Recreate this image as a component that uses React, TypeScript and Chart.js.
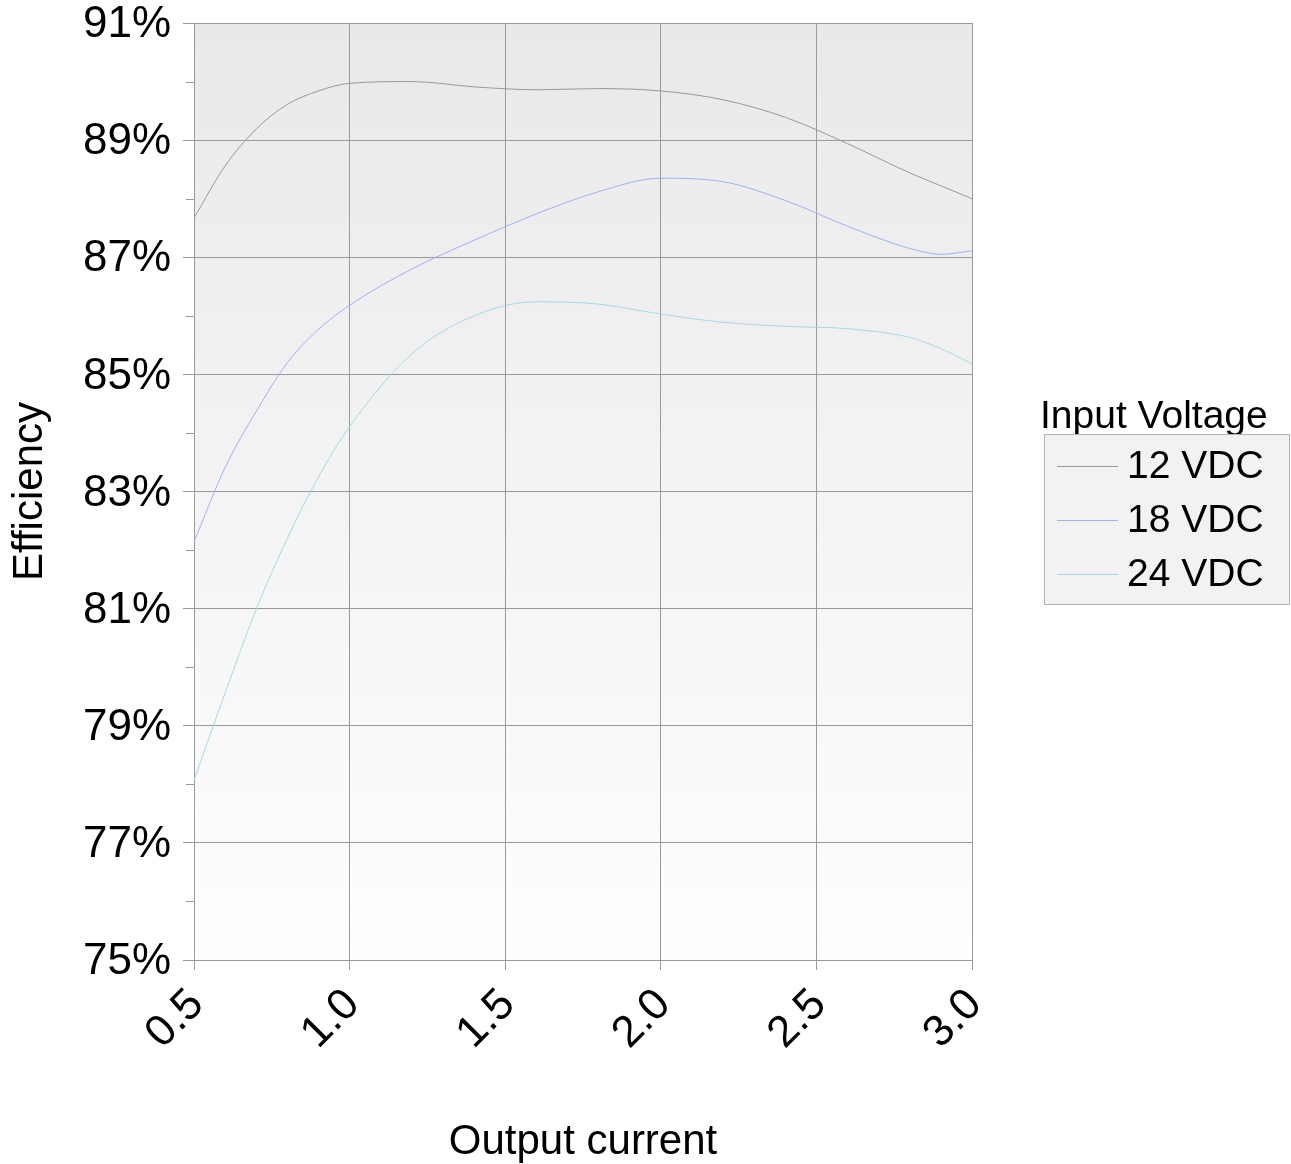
import React, { useEffect, useRef } from "react";
import { Chart, registerables } from "chart.js";
Chart.register(...registerables);

const currents = [0.5, 0.6, 0.7, 0.8, 0.9, 1.0, 1.2, 1.4, 1.6, 1.8, 2.0, 2.2, 2.4, 2.6, 2.8, 2.9, 3.0];
const eff12 = [87.67, 88.56, 89.19, 89.61, 89.84, 89.97, 90.0, 89.91, 89.86, 89.88, 89.84, 89.69, 89.39, 88.94, 88.44, 88.22, 88.0];
const eff18 = [82.14, 83.41, 84.37, 85.2, 85.77, 86.18, 86.8, 87.29, 87.74, 88.12, 88.35, 88.29, 87.97, 87.53, 87.15, 87.05, 87.11];
const eff24 = [78.07, 79.56, 80.99, 82.2, 83.25, 84.11, 85.35, 86.0, 86.24, 86.2, 86.03, 85.89, 85.82, 85.78, 85.63, 85.44, 85.18];
const seriesLabels = ["12 VDC", "18 VDC", "24 VDC"];
const seriesColors = ["#999999", "#9db2f6", "#a6d9e8"];
const xTicks = [0.5, 1.0, 1.5, 2.0, 2.5, 3.0];
const yTicks = [75, 77, 79, 81, 83, 85, 87, 89, 91];
const yMinorTicks = [76, 78, 80, 82, 84, 86, 88, 90];
const legendTitle = "Input Voltage";
const xTitle = "Output current";
const yTitle = "Efficiency";

const FONT = "'Liberation Sans', Arial, sans-serif";

const bgPlugin = {
  id: "bgPlugin",
  beforeDraw(chart: any) {
    const { ctx, chartArea } = chart;
    ctx.save();
    ctx.fillStyle = "#ffffff";
    ctx.fillRect(0, 0, chart.width, chart.height);
    const g = ctx.createLinearGradient(0, chartArea.top, 0, chartArea.bottom);
    g.addColorStop(0, "#e9e9e9");
    g.addColorStop(1, "#fefefe");
    ctx.fillStyle = g;
    ctx.fillRect(chartArea.left, chartArea.top, chartArea.right - chartArea.left, chartArea.bottom - chartArea.top);
    ctx.restore();
  },
  afterDraw(chart: any) {
    const { ctx, chartArea } = chart;
    const ys = chart.scales.y;
    ctx.save();
    ctx.strokeStyle = "#9a9a9a";
    ctx.lineWidth = 1;
    for (const v of yMinorTicks) {
      const py = Math.round(ys.getPixelForValue(v)) + 0.5;
      ctx.beginPath();
      ctx.moveTo(chartArea.left - 8, py);
      ctx.lineTo(chartArea.left, py);
      ctx.stroke();
    }
    // legend
    const lx = chartArea.right + 72;
    const boxTop = 434;
    ctx.font = `39px ${FONT}`;
    ctx.fillStyle = "#000";
    ctx.textBaseline = "middle";
    ctx.textAlign = "left";
    ctx.fillText(legendTitle, lx - 4, 417);
    ctx.fillStyle = "#f2f2f2";
    ctx.fillRect(lx + 0.5, boxTop + 0.5, 245, 170);
    ctx.strokeStyle = "#b3b3b3";
    ctx.strokeRect(lx + 0.5, boxTop + 0.5, 245, 170);
    chart.data.datasets.forEach((ds: any, i: number) => {
      const cy = 466 + i * 54;
      ctx.strokeStyle = ds.borderColor;
      ctx.beginPath();
      ctx.moveTo(lx + 13, cy + 0.5);
      ctx.lineTo(lx + 74, cy + 0.5);
      ctx.stroke();
      ctx.fillStyle = "#000";
      ctx.fillText(ds.label, lx + 83, cy + 1);
    });
    ctx.restore();
  },
};

export default function App() {
  const ref = useRef<HTMLCanvasElement | null>(null);
  useEffect(() => {
    if (!ref.current) return;
    const series = [eff12, eff18, eff24];
    const chart = new Chart(ref.current, {
      type: "line",
      data: {
        datasets: series.map((s, i) => ({
          label: seriesLabels[i],
          data: currents.map((x, j) => ({ x, y: s[j] })),
          borderColor: seriesColors[i],
          borderWidth: 1,
          pointRadius: 0,
          fill: false,
          cubicInterpolationMode: "monotone" as const,
        })),
      },
      options: {
        animation: false,
        responsive: false,
        devicePixelRatio: 1,
        layout: { padding: { top: 23, right: 319, left: 0, bottom: 0 } },
        plugins: { legend: { display: false }, tooltip: { enabled: false } },
        scales: {
          x: {
            type: "linear",
            min: 0.5,
            max: 3.0,
            afterBuildTicks: (s: any) => {
              s.ticks = xTicks.map((v) => ({ value: v }));
            },
            afterFit: (s: any) => {
              s.height = 204;
              s.paddingLeft = 0;
              s.paddingRight = 0;
            },
            grid: { color: "#9a9a9a", lineWidth: 1, tickLength: 10, drawTicks: true },
            border: { display: false },
            ticks: {
              color: "#000",
              font: { family: FONT, size: 44 },
              minRotation: 45,
              maxRotation: 45,
              padding: 9,
              labelOffset: 3,
              callback: (v: any) => Number(v).toFixed(1),
            },
            title: {
              display: true,
              text: xTitle,
              color: "#000",
              font: { family: FONT, size: 42 },
              padding: { top: 0, bottom: -4 },
            },
          },
          y: {
            type: "linear",
            min: 75,
            max: 91,
            afterBuildTicks: (s: any) => {
              s.ticks = yTicks.map((v) => ({ value: v }));
            },
            afterFit: (s: any) => {
              s.width = 194;
              s.paddingTop = 0;
              s.paddingBottom = 0;
            },
            grid: { color: "#9a9a9a", lineWidth: 1, tickLength: 11 },
            border: { display: false },
            ticks: {
              color: "#000",
              font: { family: FONT, size: 44 },
              padding: 12,
              labelOffset: 2,
              callback: (v: any) => `${v}%`,
            },
            title: {
              display: true,
              text: yTitle,
              color: "#000",
              font: { family: FONT, size: 42 },
              padding: { top: 5, bottom: 0 },
            },
          },
        },
      },
      plugins: [bgPlugin],
    });
    return () => chart.destroy();
  }, []);
  return (
    <div style={{ position: "absolute", left: 0, top: 0, width: 1291, height: 1164 }}>
      <canvas ref={ref} width={1291} height={1164} style={{ width: 1291, height: 1164, display: "block" }} />
    </div>
  );
}
